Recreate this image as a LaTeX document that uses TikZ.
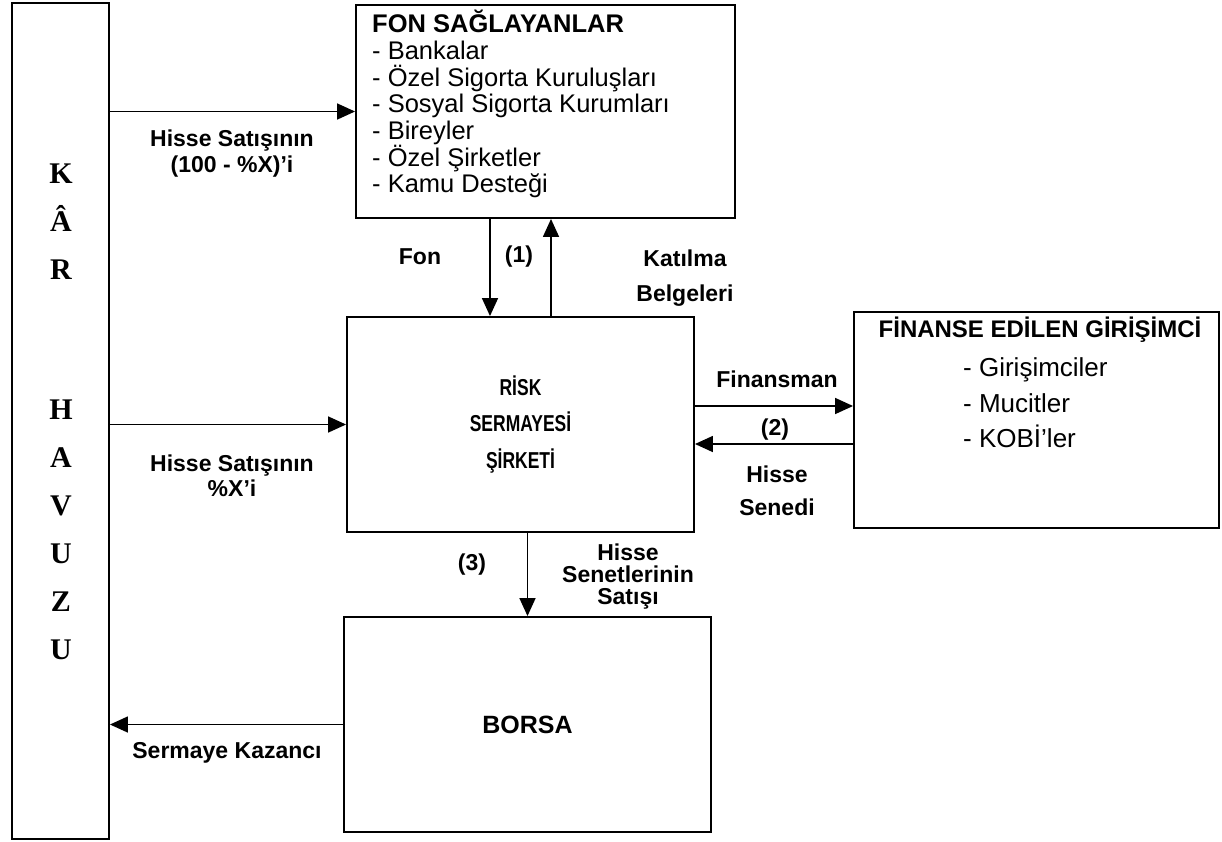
\documentclass[tikz,border=0pt]{standalone}
\usepackage{fontspec}
\setmainfont{Liberation Sans}
\newfontfamily\poolfont{Liberation Serif}
\newfontfamily\narrowfont{Liberation Sans}[FakeStretch=0.76]
\usetikzlibrary{positioning,arrows.meta}

\begin{document}
\begin{tikzpicture}[x=1pt,y=-1pt,
  box/.style={draw,line width=1.9pt,inner sep=0pt,align=center},
  arr/.style={-{Triangle[length=18pt,width=16pt]},line width=1.6pt},
  lab/.style={inner sep=0pt,align=center,font=\bfseries\fontsize{23}{26}\selectfont},
  item/.style={inner sep=0pt,align=left,font=\fontsize{25.5}{26.7}\selectfont}]
  \fill[white] (0,0) rectangle (1222,841);
  \useasboundingbox (0,0) rectangle (1222,841);
  % boxes
  \node[box,minimum width=97,minimum height=836] (pool) at (60.5,421) {};
  \node[inner sep=0pt,align=center,font=\poolfont\bfseries\fontsize{30}{48}\selectfont]
    (poolname) at (61,411.5) {K\\Â\\R\\[92pt]H\\A\\V\\U\\Z\\U};
  \node[box,minimum width=379,minimum height=213] (fon) at (545.5,111.5) {};
  \node[item,anchor=north west] (fonlist) at (372,10)
    {{\bfseries FON SAĞLAYANLAR}\\- Bankalar\\- Özel Sigorta Kuruluşları\\- Sosyal Sigorta Kurumları\\- Bireyler\\- Özel Şirketler\\- Kamu Desteği};
  \node[box,minimum width=347,minimum height=215,font=\narrowfont\bfseries\fontsize{23}{36.5}\selectfont]
    (risk) at (520.5,424.5) {RİSK\\SERMAYESİ\\ŞİRKETİ};
  \node[box,minimum width=365,minimum height=216] (fin) at (1036.5,420) {};
  \node[anchor=base,inner sep=0pt,font=\bfseries\fontsize{24}{28}\selectfont]
    (fintitle) at (1040,337) {FİNANSE EDİLEN GİRİŞİMCİ};
  \node[item,anchor=north west,font=\fontsize{26}{35.5}\selectfont] (finlist) at (963,357.5)
    {- Girişimciler\\- Mucitler\\- KOBİ'ler};
  \node[box,minimum width=367,minimum height=215,font=\bfseries\fontsize{25}{30}\selectfont]
    (borsa) at (527.5,724.5) {BORSA};
  % connectors
  \draw[arr] (pool.east |- fon.west) -- (fon.west);
  \draw[arr] (pool.east |- risk.west) -- (risk.west);
  \draw[arr] ([xshift=-30.5pt]risk.north |- fon.south) -- ([xshift=-30.5pt]risk.north);
  \draw[arr] ([xshift=30.5pt]risk.north) -- ([xshift=30.5pt]risk.north |- fon.south);
  \draw[arr] ([yshift=18.5pt]risk.east) -- ([yshift=18.5pt]risk.east -| fin.west);
  \draw[arr] ([yshift=-19.5pt]risk.east -| fin.west) -- ([yshift=-19.5pt]risk.east);
  \draw[arr] (risk.south -| borsa.north) -- (borsa.north);
  \draw[arr] (borsa.west) -- (borsa.west -| pool.east);
  % labels
  \node[lab] (l100) at (232,154) {Hisse Satışının\\(100 - \%X)'i};
  \node[lab,font=\bfseries\fontsize{23}{25}\selectfont] (lx) at (232,476) {Hisse Satışının\\\%X'i};
  \node[lab] (lsermaye) at (227,753) {Sermaye Kazancı};
  \node[lab] (lfon) at (420,257) {Fon};
  \node[lab] (l1) at (519,257) {(1)};
  \node[lab,font=\bfseries\fontsize{23}{35}\selectfont] (lkatilma) at (685,278) {Katılma\\Belgeleri};
  \node[lab] (lfinansman) at (777,379) {Finansman};
  \node[lab] (l2) at (775,430) {(2)};
  \node[lab,font=\bfseries\fontsize{23}{33}\selectfont] (lsenedi) at (777,491) {Hisse\\Senedi};
  \node[lab] (l3) at (472,565) {(3)};
  \node[lab,font=\bfseries\fontsize{23}{22}\selectfont] (lsatis) at (628,577) {Hisse\\Senetlerinin\\Satışı};
\end{tikzpicture}
\end{document}
